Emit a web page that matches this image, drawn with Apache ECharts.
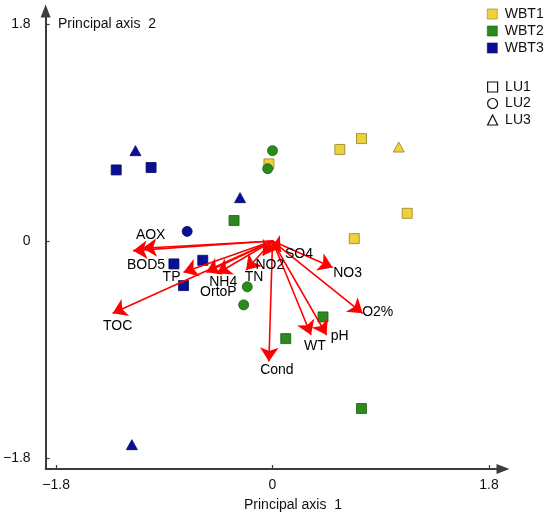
<!DOCTYPE html>
<html>
<head>
<meta charset="utf-8">
<title>PCA biplot</title>
<script src="https://cdn.jsdelivr.net/npm/echarts@6/dist/echarts.min.js"></script>
<style>html,body{margin:0;padding:0;background:#fff;}</style>
</head>
<body>
<div id="main" style="width:550px;height:518px;"></div>
<script>
var axisTicks = [-1.8, 0, 1.8];
var groupNames = ['WBT1', 'WBT2', 'WBT3'];
var luNames = ['LU1', 'LU2', 'LU3'];

// sample scores: [axis 1, axis 2, land use]
var wbt1 = [[-0.03, 0.64, 1], [0.56, 0.76, 1], [0.74, 0.85, 1], [1.05, 0.78, 3], [1.12, 0.23, 1], [0.68, 0.02, 1]];
var wbt2 = [[0.00, 0.75, 2], [-0.04, 0.60, 2], [-0.21, -0.38, 2], [-0.24, -0.53, 2], [-0.32, 0.17, 1], [0.42, -0.63, 1], [0.11, -0.81, 1], [0.74, -1.39, 1]];
var wbt3 = [[-1.14, 0.75, 3], [-0.27, 0.36, 3], [-1.17, -1.69, 3], [-1.30, 0.59, 1], [-1.01, 0.61, 1], [-0.82, -0.19, 1], [-0.58, -0.16, 1], [-0.74, -0.37, 1], [-0.71, 0.08, 2]];

// environmental variables (arrow tips)
var varNames = ['AOX', 'BOD5', 'TP', 'OrtoP', 'NH4', 'TN', 'NO2', 'SO4', 'NO3', 'O2%', 'pH', 'WT', 'Cond', 'TOC'];
var loadX = [-1.08, -1.16, -0.74, -0.55, -0.46, -0.22, -0.08, 0.07, 0.50, 0.75, 0.45, 0.32, -0.03, -1.33];
var loadY = [-0.06, -0.08, -0.26, -0.26, -0.27, -0.24, -0.12, -0.09, -0.22, -0.60, -0.78, -0.78, -1.00, -0.60];

// label nudges in px
var labelShift = {
    'AOX': [8, -13], 'BOD5': [13, 14], 'TP': [-12, 5], 'OrtoP': [12, 20], 'NH4': [6, 9],
    'TN': [8, 7], 'NO2': [7, 10], 'SO4': [18, 2], 'NO3': [15, 6], 'O2%': [15, -1],
    'pH': [13, 1], 'WT': [4, 11], 'Cond': [8, 9], 'TOC': [5, 13]
};

var FONT = '"Liberation Sans", Arial, sans-serif';
var fills = ['#EFD23A', '#2A8A1C', '#0A0F94'];
var borders = ['#8f7f28', '#1d5a12', '#060a60'];
var shapes = {1: 'rect', 2: 'circle', 3: 'triangle'};
var iconPaths = [
    'path://M0,0H10V10H0Z',
    'path://M5,0A5,5,0,1,1,5,10A5,5,0,1,1,5,0Z',
    'path://M5,0L10,10H0Z'
];

function minusFmt(v) {
    if (v === 0) return '0';
    return v < 0 ? '\u2212' + Math.abs(v) : String(v);
}

function pointSeries(name, pts, i) {
    return {
        name: name,
        type: 'scatter',
        z: 3,
        symbolSize: function (val) { return val[2] === 3 ? [11, 10] : 10; },
        itemStyle: {color: fills[i], borderColor: borders[i], borderWidth: 0.8, opacity: 1},
        data: pts.map(function (p) {
            return {value: p, symbol: shapes[p[2]]};
        })
    };
}

var myChart = echarts.init(document.getElementById('main'));

var arrowData = varNames.map(function (n, i) {
    return {name: n, coords: [[0, 0], [loadX[i], loadY[i]]]};
});
var labelData = varNames.map(function (n, i) {
    return {name: n, value: [loadX[i], loadY[i]], label: {offset: labelShift[n]}};
});

var axisCommon = {
    type: 'value',
    splitLine: {show: false},
    axisLine: {
        show: true, onZero: false,
        symbol: ['none', 'triangle'], symbolSize: [10, 13],
        lineStyle: {color: '#3c3c3c', width: 2}
    },
    axisTick: {show: true, inside: true, length: 4, customValues: axisTicks,
        lineStyle: {color: '#3c3c3c', width: 1.2}},
    axisLabel: {customValues: axisTicks, formatter: minusFmt,
        color: '#111111', fontSize: 14, fontFamily: FONT}
};

option = {
    animation: false,
    backgroundColor: '#ffffff',
    textStyle: {fontFamily: FONT},
    title: [
        {text: 'Principal axis  2', left: 58, top: 17, padding: 0,
            textStyle: {fontSize: 14, fontWeight: 'normal', color: '#111111', fontFamily: FONT}},
        {text: 'Principal axis  1', left: 244, top: 498, padding: 0,
            textStyle: {fontSize: 14, fontWeight: 'normal', color: '#111111', fontFamily: FONT}}
    ],
    legend: [
        {
            orient: 'vertical', left: 487, top: 7, padding: 0,
            itemWidth: 15, itemHeight: 10, itemGap: 3,
            textStyle: {fontSize: 14, lineHeight: 14, color: '#111111', fontFamily: FONT},
            data: groupNames.map(function (n, i) {
                return {name: n, icon: iconPaths[0],
                    itemStyle: {color: fills[i], borderColor: borders[i], borderWidth: 0.6, opacity: 1}};
            })
        },
        {
            orient: 'vertical', left: 487, top: 80, padding: 0,
            itemWidth: 15, itemHeight: 10, itemGap: 2.5,
            textStyle: {fontSize: 14, lineHeight: 14, color: '#111111', fontFamily: FONT},
            data: luNames.map(function (n, i) {
                return {name: n, icon: iconPaths[i],
                    itemStyle: {color: '#ffffff', borderColor: '#111111', borderWidth: 1.2, opacity: 1}};
            })
        }
    ],
    grid: {left: 45, right: 47, top: 11, bottom: 49, containLabel: false},
    xAxis: echarts.util.merge({min: -1.887, max: 1.917,
        axisLabel: {margin: 9}}, axisCommon, false),
    yAxis: echarts.util.merge({min: -1.892, max: 1.909,
        axisLabel: {margin: 15}}, axisCommon, false),
    series: [
        pointSeries('WBT1', wbt1, 0),
        pointSeries('WBT2', wbt2, 1),
        pointSeries('WBT3', wbt3, 2),
        {name: 'LU1', type: 'scatter', data: []},
        {name: 'LU2', type: 'scatter', data: []},
        {name: 'LU3', type: 'scatter', data: []},
        {
            name: 'vars',
            type: 'lines',
            coordinateSystem: 'cartesian2d',
            z: 4,
            silent: true,
            symbol: ['none', 'arrow'],
            symbolSize: 14,
            symbolOffset: [0, 6],
            lineStyle: {color: '#ff0000', width: 1.6, opacity: 1},
            itemStyle: {color: '#ff0000'},
            data: arrowData
        },
        {
            name: 'varLabels',
            type: 'scatter',
            z: 5,
            silent: true,
            symbolSize: 1,
            itemStyle: {color: 'rgba(0,0,0,0)', opacity: 1},
            label: {show: true, position: 'inside', formatter: '{b}', opacity: 1,
                color: '#000000', fontSize: 14, fontFamily: FONT,
                textBorderWidth: 0},
            data: labelData
        }
    ]
};

myChart.setOption(option);
</script>
</body>
</html>
